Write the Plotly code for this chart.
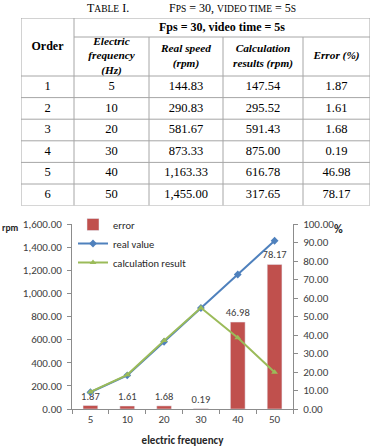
import plotly.graph_objects as go

# ---------------- data ----------------
orders = [1, 2, 3, 4, 5, 6]
freq = [5, 10, 20, 30, 40, 50]
real_speed = [144.83, 290.83, 581.67, 873.33, 1163.33, 1455.00]
calc_result = [147.54, 295.52, 591.43, 875.00, 616.78, 317.65]
error_pct = [1.87, 1.61, 1.68, 0.19, 46.98, 78.17]

table_group_header = "Fps = 30, video time = 5s"
order_header = "Order"
table_col_headers = ["Electric<br>frequency<br>(Hz)", "Real speed<br>(rpm)",
                     "Calculation<br>results (rpm)", "Error (%)"]
freq_labels = [str(f) for f in freq]

W, H = 371, 447
def px(x):
    return x / W
def py(y):
    return 1 - y / H

SERIF = "Liberation Serif, Times New Roman, serif"
SANS = "Carlito, Lato, sans-serif"
LINE = "#8c8c8c"
TLINE = "#a6a6a6"

# ---------------- table geometry (layout only) ----------------
col_w = [53, 75, 74, 80, 67]
group_h, sub_h, row_h = 19, 39, 21.6
col_edges = [0]
for w in col_w:
    col_edges.append(col_edges[-1] + w)
col_mid = [(col_edges[i] + col_edges[i + 1]) / 2 for i in range(len(col_w))]
body_top = group_h + sub_h
row_edges = [body_top + row_h * k for k in range(len(orders) + 1)]
row_mid = [(row_edges[k] + row_edges[k + 1]) / 2 for k in range(len(orders))]
t_w, t_h = col_edges[-1], row_edges[-1]

fig = go.Figure()

# body cells
body_cols = [[str(o) for o in orders], freq_labels,
             [f"{v:,.2f}" for v in real_speed],
             [f"{v:,.2f}" for v in calc_result],
             [f"{v:.2f}" for v in error_pct]]
bx, by, bt = [], [], []
for ci, col in enumerate(body_cols):
    for ri, val in enumerate(col):
        bx.append(col_mid[ci]); by.append(row_mid[ri]); bt.append(val)
fig.add_trace(go.Scatter(
    x=bx, y=by, text=bt, mode="text", xaxis="x3", yaxis="y3",
    textposition="middle center", showlegend=False, hoverinfo="skip",
    cliponaxis=False, textfont=dict(family=SERIF, size=12.5, color="black"),
))
# header cells: order + group header
fig.add_trace(go.Scatter(
    x=[col_mid[0], (col_edges[1] + col_edges[-1]) / 2],
    y=[body_top / 2, group_h / 2],
    text=["<b>" + order_header + "</b>", "<b>" + table_group_header + "</b>"],
    mode="text", xaxis="x3", yaxis="y3",
    textposition="middle center", showlegend=False, hoverinfo="skip",
    cliponaxis=False, textfont=dict(family=SERIF, size=12, color="black"),
))
# sub headers
fig.add_trace(go.Scatter(
    x=col_mid[1:], y=[group_h + sub_h / 2] * 4,
    text=["<b><i>" + h + "</i></b>" for h in table_col_headers],
    mode="text", xaxis="x3", yaxis="y3",
    textposition="middle center", showlegend=False, hoverinfo="skip",
    cliponaxis=False, textfont=dict(family=SERIF, size=11.3, color="black"),
))

shapes = []
def tline(x0, y0, x1, y1):
    shapes.append(dict(type="line", xref="x3", yref="y3", x0=x0, y0=y0, x1=x1, y1=y1,
                       line=dict(color=TLINE, width=1)))
tline(0, 0, t_w, 0)
tline(col_edges[1], group_h, t_w, group_h)
for y in row_edges:
    tline(0, y, t_w, y)
tline(col_edges[0], 0, col_edges[0], t_h)
tline(col_edges[1], 0, col_edges[1], t_h)
for x in col_edges[2:-1]:
    tline(x, group_h, x, t_h)
tline(t_w, 0, t_w, t_h)

# ---------------- chart ----------------
fig.add_trace(go.Bar(
    x=freq_labels, y=error_pct, name="error", xaxis="x", yaxis="y",
    marker=dict(color="#C0504D"), width=0.4,
    text=[f"{v:.2f}" for v in error_pct], textposition="outside",
    constraintext="none",
    textfont=dict(family=SANS, size=10.5, color="#404040"),
    cliponaxis=False,
))
fig.add_trace(go.Scatter(
    x=freq_labels, y=real_speed, name="real value", xaxis="x", yaxis="y2",
    mode="lines+markers", line=dict(color="#4F81BD", width=2),
    marker=dict(symbol="diamond", size=6, color="#4F81BD"),
))
fig.add_trace(go.Scatter(
    x=freq_labels, y=calc_result, name="calculation result", xaxis="x", yaxis="y2",
    mode="lines+markers", line=dict(color="#9BBB59", width=2),
    marker=dict(symbol="triangle-up", size=6, color="#9BBB59"),
))

axis_common = dict(showgrid=False, zeroline=False, showline=True, linecolor=LINE,
                   linewidth=1, ticks="outside", ticklen=4, tickcolor=LINE,
                   automargin=False,
                   tickfont=dict(family=SANS, size=11, color="#404040"))

hidden = dict(visible=False, showgrid=False, zeroline=False, fixedrange=True)

SMALL = "<span style='font-size:9.5px'>"
fig.update_layout(
    width=W, height=H,
    margin=dict(l=0, r=0, t=0, b=0),
    paper_bgcolor="white", plot_bgcolor="white",
    showlegend=True,
    shapes=shapes,
    xaxis=dict(domain=[px(72), px(293)], type="category", range=[-0.5, 5.5],
               tickson="boundaries", anchor="y",
               title=dict(text="<b>electric frequency</b>",
                          font=dict(family=SANS, size=11, color="#262626")),
               **axis_common),
    yaxis=dict(domain=[py(409), py(224)], side="right", range=[0, 100], dtick=10,
               tickformat=".2f", anchor="x", ticklabelstandoff=3, **axis_common),
    yaxis2=dict(domain=[py(409), py(224)], side="left", overlaying="y",
                range=[0, 1600], dtick=200, tickformat=",.2f", anchor="x",
                ticklabelstandoff=3, **axis_common),
    xaxis3=dict(domain=[px(21), px(370)], range=[0, t_w], anchor="y3", **hidden),
    yaxis3=dict(domain=[py(18 + t_h), py(18)], range=[t_h, 0], anchor="x3", **hidden),
    legend=dict(x=px(73), y=py(210), xanchor="left", yanchor="top",
                bgcolor="rgba(0,0,0,0)", itemwidth=30,
                font=dict(family=SANS, size=10.5, color="#262626")),
    annotations=[
        dict(text="T" + SMALL + "ABLE</span> I.", x=px(85), y=py(8),
             xref="paper", yref="paper", xanchor="left", yanchor="middle",
             showarrow=False, font=dict(family=SERIF, size=12, color="black")),
        dict(text="F" + SMALL + "PS</span> = 30, " + SMALL + "VIDEO TIME</span> = 5" + SMALL + "S</span>",
             x=px(167), y=py(8), xref="paper", yref="paper", xanchor="left",
             yanchor="middle", showarrow=False,
             font=dict(family=SERIF, size=12, color="black")),
        dict(text="<b>rpm</b>", x=px(0.5), y=py(228), xref="paper", yref="paper",
             xanchor="left", borderpad=0,
             showarrow=False, font=dict(family=SANS, size=9.5, color="#262626")),
        dict(text="<b>%</b>", x=px(345), y=py(229), xref="paper", yref="paper",
             showarrow=False, font=dict(family=SANS, size=12, color="#262626")),
    ],
)

fig.write_html("out.html")
